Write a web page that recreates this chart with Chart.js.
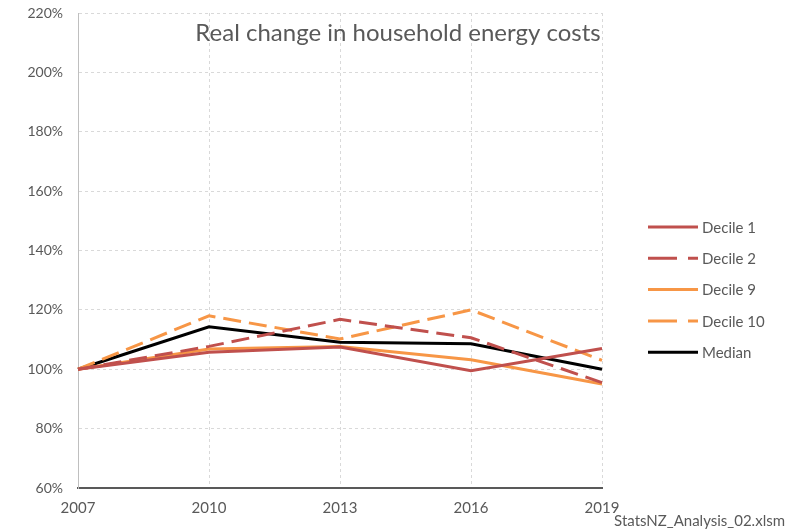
<!DOCTYPE html>
<html lang="en">
<head>
    <meta charset="UTF-8">
    <title>Real change in household energy costs</title>
    <script src="https://cdn.jsdelivr.net/npm/chart.js"></script>
    <style>
        html, body { margin: 0; padding: 0; background: #fff; }
        #wrap { position: relative; width: 789px; height: 532px; }
    </style>
</head>
<body>
    <div id="wrap">
        <canvas id="energyChart" width="789" height="532"></canvas>
    </div>

    <script>
        // Data (% of 2007 level)
        const years = ['2007', '2010', '2013', '2016', '2019'];
        const decile1 = [100, 105.7, 107.5, 99.5, 107.0];
        const decile2 = [100, 107.7, 116.8, 110.6, 95.5];
        const decile9 = [100, 106.8, 107.7, 103.2, 95.0];
        const decile10 = [100, 118.0, 110.2, 120.0, 103.0];
        const median = [100, 114.3, 109.1, 108.6, 100.0];
        const yTicks = [60, 80, 100, 120, 140, 160, 180, 200, 220];

        const RED = '#C0504D';
        const ORANGE = '#F79646';
        const FONT = 'Lato, "Open Sans", sans-serif';
        const TEXT = '#595959';

        function series(label, data, color, dashed) {
            return {
                label: label,
                data: data,
                borderColor: color,
                backgroundColor: color,
                borderWidth: 3,
                borderDash: dashed ? [18, 8] : [],
                pointRadius: 0,
                tension: 0,
                fill: false
            };
        }

        // Title and legend are drawn by hand to sit where Excel put them
        const extras = {
            id: 'extras',
            afterDraw(chart) {
                const ctx = chart.ctx;
                ctx.save();
                ctx.fillStyle = TEXT;
                ctx.font = '24px ' + FONT;
                ctx.textAlign = 'center';
                ctx.textBaseline = 'middle';
                ctx.fillText('Real change in household energy costs', 398, 33);

                ctx.font = '15px ' + FONT;
                ctx.textAlign = 'left';
                chart.data.datasets.forEach((ds, i) => {
                    const y = 227 + i * 31.3;
                    ctx.beginPath();
                    ctx.strokeStyle = ds.borderColor;
                    ctx.lineWidth = 3;
                    ctx.setLineDash(ds.borderDash.length ? [29, 11] : []);
                    ctx.moveTo(648, y);
                    ctx.lineTo(698, y);
                    ctx.stroke();
                    ctx.setLineDash([]);
                    ctx.fillStyle = TEXT;
                    ctx.fillText(ds.label, 702, y + 1);
                });

                ctx.font = '15px ' + FONT;
                ctx.textAlign = 'right';
                ctx.fillText('StatsNZ_Analysis_02.xlsm', 785, 521);
                ctx.restore();
            }
        };

        const ctx = document.getElementById('energyChart').getContext('2d');
        const chart = new Chart(ctx, {
            type: 'line',
            data: {
                labels: years,
                datasets: [
                    series('Decile 1', decile1, RED, false),
                    series('Decile 2', decile2, RED, true),
                    series('Decile 9', decile9, ORANGE, false),
                    series('Decile 10', decile10, ORANGE, true),
                    series('Median', median, '#000000', false)
                ]
            },
            plugins: [extras],
            options: {
                responsive: false,
                animation: false,
                layout: { padding: { top: 13, right: 187, left: 0, bottom: 0 } },
                plugins: {
                    legend: { display: false },
                    tooltip: { enabled: false }
                },
                scales: {
                    x: {
                        offset: false,
                        grid: {
                            color: '#D9D9D9',
                            drawTicks: false,
                            offset: false
                        },
                        border: { display: true, color: '#595959', width: 2, dash: [3, 3] },
                        ticks: {
                            color: TEXT,
                            font: { family: FONT, size: 15 },
                            padding: 11,
                            maxRotation: 0
                        },
                        afterFit(scale) {
                            scale.height = 44;
                            scale.paddingLeft = 0;
                            scale.paddingRight = 0;
                        }
                    },
                    y: {
                        min: 60,
                        max: 220,
                        afterBuildTicks(scale) {
                            scale.ticks = yTicks.map(v => ({ value: v }));
                        },
                        grid: {
                            color: '#D9D9D9',
                            drawTicks: false
                        },
                        border: { display: true, color: '#BFBFBF', width: 1, dash: [3, 3] },
                        ticks: {
                            color: TEXT,
                            font: { family: FONT, size: 14 },
                            padding: 15,
                            callback: v => v + '%'
                        },
                        afterFit(scale) {
                            scale.width = 78;
                            scale.paddingTop = 0;
                            scale.paddingBottom = 0;
                        }
                    }
                }
            }
        });
    </script>
</body>
</html>
